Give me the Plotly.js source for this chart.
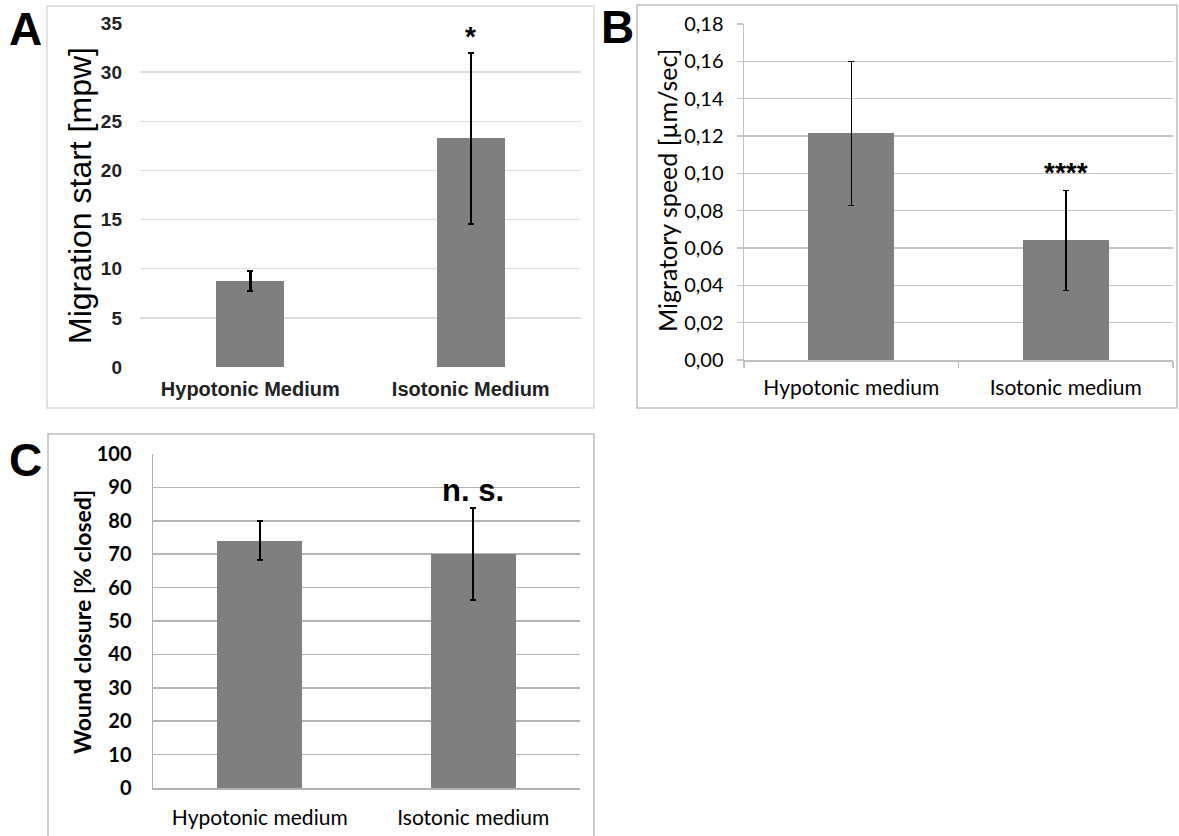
<!DOCTYPE html>
<html>
<head>
<meta charset="utf-8">
<script src="https://cdn.plot.ly/plotly-3.0.1.min.js"></script>
<style>html,body{margin:0;padding:0;background:#fff;}#chart{width:1179px;height:836px;}</style>
</head>
<body>
<div id="chart"></div>
<script>
// ---- Panel A data ----
const catsA = ["Hypotonic Medium", "Isotonic Medium"];
const valsA = [8.75, 23.25];
const errA = [1.03, 8.7];
const ticksA = [0, 5, 10, 15, 20, 25, 30, 35];

// ---- Panel B data ----
const catsB = ["Hypotonic medium", "Isotonic medium"];
const valsB = [0.1214, 0.0641];
const errB = [0.0386, 0.0268];
const ticksB = [0, 0.02, 0.04, 0.06, 0.08, 0.10, 0.12, 0.14, 0.16, 0.18];
const tickTextB = ["0,00", "0,02", "0,04", "0,06", "0,08", "0,10", "0,12", "0,14", "0,16", "0,18"];

// ---- Panel C data ----
const catsC = ["Hypotonic medium", "Isotonic medium"];
const valsC = [74.0, 70.0];
const errC = [5.8, 13.7];
const ticksC = [0, 10, 20, 30, 40, 50, 60, 70, 80, 90, 100];

// significance labels
const sigA = "*", sigB = "****", sigC = "n. s.";

const W = 1179, H = 836;
const px = v => v / W;
const py = v => 1 - v / H;

const barColor = "#7f7f7f";
const arial = "Liberation Sans, Arial, sans-serif";
const cal = "Lato, Carlito, Calibri, sans-serif";

const traces = [
  {type: "bar", x: catsA, y: valsA, xaxis: "x", yaxis: "y", width: 0.31,
   marker: {color: barColor}, hoverinfo: "none",
   error_y: {type: "data", array: errA, visible: true, color: "#000", thickness: 2.5, width: 3}},
  {type: "bar", x: catsB, y: valsB, xaxis: "x2", yaxis: "y2", width: 0.4,
   marker: {color: barColor}, hoverinfo: "none",
   error_y: {type: "data", array: errB, visible: true, color: "#000", thickness: 1.5, width: 3}},
  {type: "bar", x: catsC, y: valsC, xaxis: "x3", yaxis: "y3", width: 0.4,
   marker: {color: barColor}, hoverinfo: "none",
   error_y: {type: "data", array: errC, visible: true, color: "#000", thickness: 2, width: 3}}
];

const layout = {
  width: W, height: H,
  margin: {l: 0, r: 0, t: 0, b: 0},
  paper_bgcolor: "#fff", plot_bgcolor: "rgba(0,0,0,0)",
  showlegend: false,
  bargap: 0,
  // Panel A
  xaxis: {domain: [px(140), px(581)], anchor: "y", type: "category",
    showline: false, showgrid: false, zeroline: false, ticks: "",
    tickfont: {family: arial, size: 20, color: "#222", weight: "bold"}, ticklabelstandoff: 8},
  yaxis: {domain: [py(367), py(23)], anchor: "x", range: [0, 35], tickvals: ticksA,
    showline: false, zeroline: false, showgrid: true, gridcolor: "#dedede", gridwidth: 1.5,
    ticks: "", tickfont: {family: arial, size: 19, color: "#222", weight: "bold"}, ticklabelstandoff: 17},
  // Panel B
  xaxis2: {domain: [px(744), px(1173)], anchor: "y2", type: "category",
    showline: true, linecolor: "#bfbfbf", linewidth: 1.5, showgrid: false, zeroline: false,
    ticks: "outside", tickson: "boundaries", ticklen: 6, tickcolor: "#bfbfbf", tickwidth: 1.5,
    tickfont: {family: cal, size: 21, color: "#000"}, ticklabelstandoff: 8},
  yaxis2: {domain: [py(360), py(24)], anchor: "x2", range: [0, 0.18], tickvals: ticksB, ticktext: tickTextB,
    showline: true, linecolor: "#bfbfbf", linewidth: 1.5, zeroline: false,
    showgrid: true, gridcolor: "#c4c4c4", gridwidth: 1.5,
    ticks: "outside", ticklen: 6, tickcolor: "#c4c4c4", tickwidth: 1.5,
    tickfont: {family: cal, size: 20, color: "#000"}, ticklabelstandoff: 9},
  // Panel C
  xaxis3: {domain: [px(153), px(580)], anchor: "y3", type: "category",
    showline: true, linecolor: "#b0b0b0", linewidth: 1.5, showgrid: false, zeroline: false, ticks: "",
    tickfont: {family: cal, size: 21, color: "#000"}, ticklabelstandoff: 10},
  yaxis3: {domain: [py(788), py(454)], anchor: "x3", range: [0, 100], tickvals: ticksC,
    showline: true, linecolor: "#b0b0b0", linewidth: 1.5, zeroline: false,
    showgrid: true, gridcolor: "#b4b4b4", gridwidth: 1.5, ticks: "",
    tickfont: {family: cal, size: 20, color: "#000", weight: "bold"}, ticklabelstandoff: 16},
  shapes: [
    {type: "rect", xref: "paper", yref: "paper", x0: px(47), x1: px(594), y0: py(408), y1: py(6),
     line: {color: "#d9d9d9", width: 1.5}, layer: "below"},
    {type: "rect", xref: "paper", yref: "paper", x0: px(637), x1: px(1177), y0: py(408), y1: py(5),
     line: {color: "#bdbdbd", width: 1.5}, layer: "below"},
    {type: "rect", xref: "paper", yref: "paper", x0: px(48), x1: px(594), y0: py(850), y1: py(434),
     line: {color: "#bdbdbd", width: 1.5}, layer: "below"}
  ],
  annotations: [
    // panel letters
    {xref: "paper", yref: "paper", x: px(25), y: py(29), text: "<b>A</b>", showarrow: false,
     font: {family: arial, size: 46, color: "#000"}, xanchor: "center", yanchor: "middle"},
    {xref: "paper", yref: "paper", x: px(617), y: py(27), text: "<b>B</b>", showarrow: false,
     font: {family: arial, size: 46, color: "#000"}, xanchor: "center", yanchor: "middle"},
    {xref: "paper", yref: "paper", x: px(25), y: py(460), text: "<b>C</b>", showarrow: false,
     font: {family: arial, size: 46, color: "#000"}, xanchor: "center", yanchor: "middle"},
    // y titles
    {xref: "paper", yref: "paper", x: px(80), y: py(196), text: "Migration start [mpw]", textangle: -90,
     showarrow: false, font: {family: arial, size: 32, color: "#000"}, xanchor: "center", yanchor: "middle"},
    {xref: "paper", yref: "paper", x: px(667), y: py(191), text: "Migratory speed [µm/sec]", textangle: -90,
     showarrow: false, font: {family: cal, size: 25, color: "#000"}, xanchor: "center", yanchor: "middle"},
    {xref: "paper", yref: "paper", x: px(82), y: py(622), text: "<b>Wound closure [% closed]</b>", textangle: -90,
     showarrow: false, font: {family: cal, size: 23, color: "#000"}, xanchor: "center", yanchor: "middle"},
    // significance
    {xref: "x", yref: "y", x: catsA[1], y: 33.6, text: "<b>" + sigA + "</b>", showarrow: false,
     font: {family: arial, size: 28, color: "#000"}, xanchor: "center", yanchor: "middle"},
    {xref: "x2", yref: "y2", x: catsB[1], y: 0.1005, text: "<b>" + sigB + "</b>", showarrow: false,
     font: {family: arial, size: 28, color: "#000"}, xanchor: "center", yanchor: "middle"},
    {xref: "x3", yref: "y3", x: catsC[1], y: 89.2, text: "<b>" + sigC + "</b>", showarrow: false,
     font: {family: arial, size: 31, color: "#000"}, xanchor: "center", yanchor: "middle"}
  ]
};

Plotly.newPlot("chart", traces, layout, {staticPlot: true, displayModeBar: false});
</script>
</body>
</html>
